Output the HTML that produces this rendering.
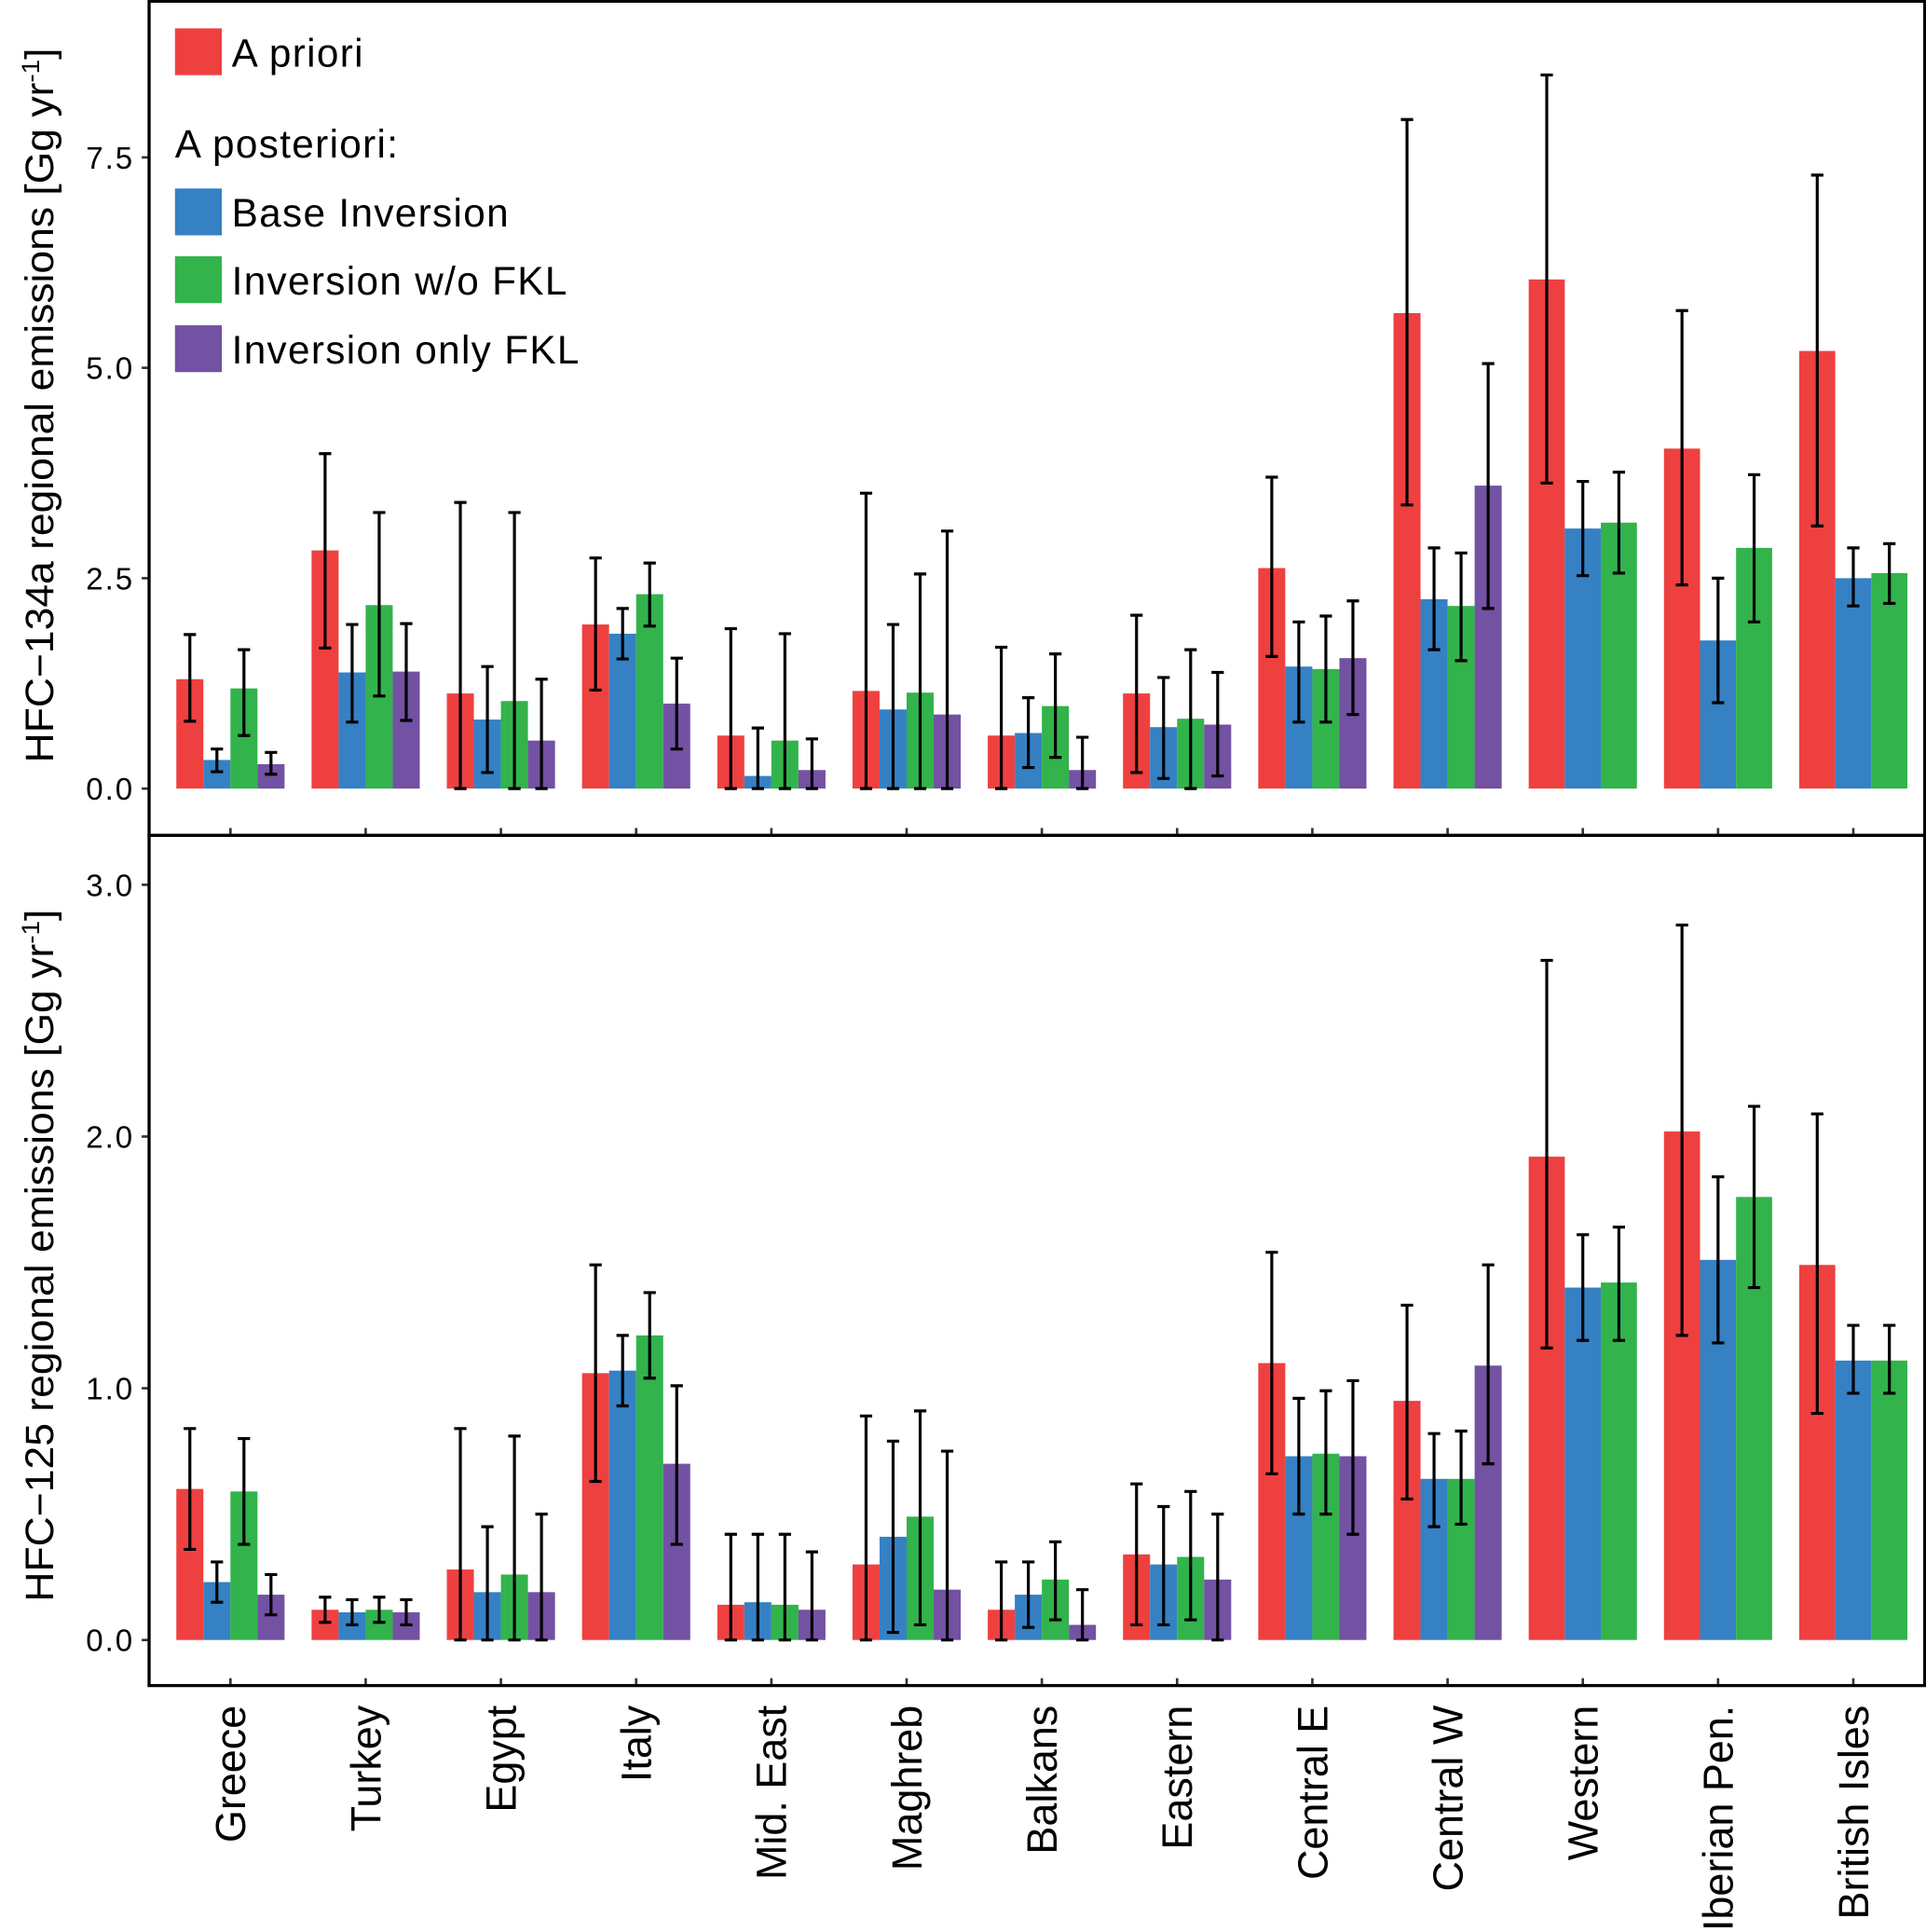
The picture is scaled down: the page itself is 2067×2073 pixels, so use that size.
<!DOCTYPE html>
<html><head><meta charset="utf-8">
<style>
html,body{margin:0;padding:0;background:#fff;}
svg{display:block;}
text{font-family:"Liberation Sans",sans-serif;fill:#000;}
</style></head>
<body>
<svg id="chart" width="2067" height="2073" viewBox="0 0 1563 1568" preserveAspectRatio="none" xmlns="http://www.w3.org/2000/svg"></svg>
<script>
const categories = ["Greece","Turkey","Egypt","Italy","Mid. East","Maghreb","Balkans","Eastern","Central E","Central W","Western","Iberian Pen.","British Isles"];
const seriesNames = ["A priori","Base Inversion","Inversion w/o FKL","Inversion only FKL"];
const seriesColors = ["#EF4040","#3581C4","#32B34B","#7351A3"];
// HFC-134a: values, upper, lower (null = missing)
const a134Prior = [1.30,2.83,1.13,1.95,0.63,1.16,0.63,1.13,2.62,5.65,6.05,4.04,5.20];
const a134PriorHi = [1.83,3.98,3.40,2.74,1.90,3.51,1.68,2.06,3.70,7.95,8.48,5.68,7.29];
const a134PriorLo = [0.80,1.67,0,1.17,0,0,0,0.19,1.57,3.37,3.63,2.42,3.12];
const a134Base = [0.34,1.38,0.82,1.84,0.15,0.94,0.66,0.73,1.45,2.25,3.09,1.76,2.50];
const a134BaseHi = [0.47,1.95,1.45,2.14,0.72,1.95,1.08,1.32,1.98,2.86,3.65,2.50,2.86];
const a134BaseLo = [0.20,0.79,0.19,1.54,0,0,0.25,0.12,0.79,1.65,2.53,1.02,2.17];
const a134Wo = [1.19,2.18,1.04,2.31,0.57,1.14,0.98,0.83,1.42,2.17,3.16,2.86,2.56];
const a134WoHi = [1.65,3.28,3.28,2.68,1.84,2.55,1.60,1.65,2.05,2.80,3.76,3.73,2.91];
const a134WoLo = [0.63,1.10,0,1.93,0,0,0.37,0,0.79,1.52,2.56,1.98,2.20];
const a134Only = [0.29,1.39,0.57,1.01,0.22,0.88,0.22,0.76,1.55,3.60,null,null,null];
const a134OnlyHi = [0.43,1.96,1.30,1.55,0.59,3.06,0.61,1.38,2.23,5.05,null,null,null];
const a134OnlyLo = [0.17,0.81,0,0.47,0,0,0,0.15,0.88,2.14,null,null,null];
// HFC-125
const a125Prior = [0.60,0.12,0.28,1.06,0.14,0.30,0.12,0.34,1.10,0.95,1.92,2.02,1.49];
const a125PriorHi = [0.84,0.17,0.84,1.49,0.42,0.89,0.31,0.62,1.54,1.33,2.70,2.84,2.09];
const a125PriorLo = [0.36,0.07,0,0.63,0,0,0,0.06,0.66,0.56,1.16,1.21,0.90];
const a125Base = [0.23,0.11,0.19,1.07,0.15,0.41,0.18,0.30,0.73,0.64,1.40,1.51,1.11];
const a125BaseHi = [0.31,0.16,0.45,1.21,0.42,0.79,0.31,0.53,0.96,0.82,1.61,1.84,1.25];
const a125BaseLo = [0.15,0.06,0,0.93,0,0.03,0.05,0.06,0.50,0.45,1.19,1.18,0.98];
const a125Wo = [0.59,0.12,0.26,1.21,0.14,0.49,0.24,0.33,0.74,0.64,1.42,1.76,1.11];
const a125WoHi = [0.80,0.17,0.81,1.38,0.42,0.91,0.39,0.59,0.99,0.83,1.64,2.12,1.25];
const a125WoLo = [0.38,0.07,0,1.04,0,0.06,0.08,0.08,0.50,0.46,1.19,1.40,0.98];
const a125Only = [0.18,0.11,0.19,0.70,0.12,0.20,0.06,0.24,0.73,1.09,null,null,null];
const a125OnlyHi = [0.26,0.16,0.50,1.01,0.35,0.75,0.20,0.50,1.03,1.49,null,null,null];
const a125OnlyLo = [0.10,0.06,0,0.38,0,0,0,0,0.42,0.70,null,null,null];
const ticks134 = [0,2.5,5.0,7.5];
const ticks125 = [0,1.0,2.0,3.0];

const NS="http://www.w3.org/2000/svg";
const svg=document.getElementById('chart');
function el(tag,attrs,parent){const e=document.createElementNS(NS,tag);for(const k in attrs)e.setAttribute(k,attrs[k]);(parent||svg).appendChild(e);return e;}

const xLeft=121,xRight=1562,catStep=109.75,cat0=187,groupW=87.8;
function xCat(i){return cat0+i*catStep;}

function drawPanel(pname,top,bottom,yZero,pxPerUnit,ticks,series,title,titleY,titleLen){
  const g=el('g',{});
  
  
  const y=v=>yZero-v*pxPerUnit;
  categories.forEach((c,i)=>{
    const present=series.filter(s=>s.v[i]!==null);
    const bw=groupW/present.length;
    present.forEach((s,j)=>{
      const x0=xCat(i)-groupW/2+j*bw;
      const r=el('rect',{x:x0,y:y(s.v[i]),width:bw,height:y(0)-y(s.v[i]),fill:s.color},g);
      
      
      const cx=x0+bw/2;
      const e=el('path',{d:`M${cx-5},${y(s.hi[i])}H${cx+5}M${cx},${y(s.hi[i])}V${y(s.lo[i])}M${cx-5},${y(s.lo[i])}H${cx+5}`,stroke:'#000','stroke-width':2.4,fill:'none'},g);
      
      
    });
    const t=el('line',{x1:xCat(i),x2:xCat(i),y1:bottom-6,y2:bottom,stroke:'#333','stroke-width':2},g);
    
    
  });
  ticks.forEach(v=>{
    const tl=el('line',{x1:xLeft-6,x2:xLeft,y1:y(v),y2:y(v),stroke:'#333','stroke-width':2},g);
    
    
    const tx=el('text',{x:xLeft-12,y:y(v)+9,'text-anchor':'end','font-size':25,'letter-spacing':1.5},g);
    tx.textContent=v.toFixed(1);
    
    
  });
  const fr=el('rect',{x:xLeft,y:top,width:xRight-xLeft,height:bottom-top,fill:'none',stroke:'#000','stroke-width':2.5},g);
  
  
  const ti=el('text',{x:0,y:0,'text-anchor':'middle','font-size':32,textLength:titleLen,lengthAdjust:'spacingAndGlyphs',transform:`translate(43,${titleY}) rotate(-90)`},g);
  ti.innerHTML=title+' [Gg yr<tspan baseline-shift="super" font-size="20">-1</tspan>]';
  
  
}
const keys=['prior','base','wo-fkl','only-fkl'];
drawPanel('hfc134a',1,678,640,68.3,ticks134,[
 {key:keys[0],color:seriesColors[0],v:a134Prior,hi:a134PriorHi,lo:a134PriorLo},
 {key:keys[1],color:seriesColors[1],v:a134Base,hi:a134BaseHi,lo:a134BaseLo},
 {key:keys[2],color:seriesColors[2],v:a134Wo,hi:a134WoHi,lo:a134WoLo},
 {key:keys[3],color:seriesColors[3],v:a134Only,hi:a134OnlyHi,lo:a134OnlyLo}],'HFC−134a regional emissions',329,580);
drawPanel('hfc125',678,1368,1331,204.3,ticks125,[
 {key:keys[0],color:seriesColors[0],v:a125Prior,hi:a125PriorHi,lo:a125PriorLo},
 {key:keys[1],color:seriesColors[1],v:a125Base,hi:a125BaseHi,lo:a125BaseLo},
 {key:keys[2],color:seriesColors[2],v:a125Wo,hi:a125WoHi,lo:a125WoLo},
 {key:keys[3],color:seriesColors[3],v:a125Only,hi:a125OnlyHi,lo:a125OnlyLo}],'HFC−125 regional emissions',1019,562);

categories.forEach((c,i)=>{
  const t=el('text',{x:0,y:0,'text-anchor':'end','font-size':34,transform:`translate(${xCat(i)+12},1384) rotate(-90)`});
  t.textContent=c;
  
  
});

// legend
const lg=el('g',{});


const legRows=[[0,23],[1,153],[2,208],[3,264]];
legRows.forEach(([si,yy])=>{
  const r=el('rect',{x:142,y:yy,width:38,height:38,fill:seriesColors[si]},lg);
  
  
  const t=el('text',{x:188,y:yy+31,'font-size':32,'letter-spacing':1},lg);
  t.textContent=seriesNames[si];
  
  
});
const lt=el('text',{x:142,y:128,'font-size':32,'letter-spacing':1},lg);
lt.textContent='A posteriori:';


</script>
</body></html>
